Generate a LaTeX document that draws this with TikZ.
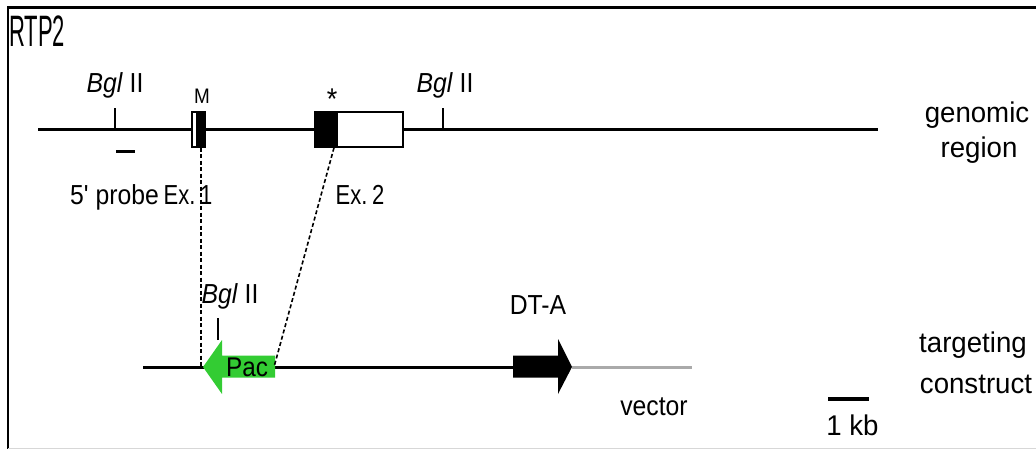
\documentclass[tikz,border=0pt]{standalone}
\usepackage{fontspec}
\setmainfont{Liberation Sans}
\newfontfamily\labfont{Liberation Sans}[FakeStretch=0.9]
\newfontfamily\exfont{Liberation Sans}[FakeStretch=0.8]
\newfontfamily\rfont{Liberation Sans}[FakeStretch=0.97]
\newfontfamily\rtpfont{Liberation Sans}[FakeStretch=0.5]
\definecolor{pacgreen}{RGB}{51,204,51}
\definecolor{vecgray}{RGB}{170,170,170}
\definecolor{framegray}{RGB}{215,215,215}
\begin{document}
\begin{tikzpicture}[x=1pt,y=-1pt,
  lab/.style={inner sep=0pt, anchor=base, font=\labfont\fontsize{27.5}{29}\selectfont},
  exlab/.style={inner sep=0pt, anchor=base, font=\exfont\fontsize{27.5}{29}\selectfont},
  rlab/.style={inner sep=0pt, anchor=base, font=\rfont\fontsize{28.5}{30}\selectfont},
  dna/.style={line width=3pt},
  sitetick/.style={line width=1.1pt},
  homol/.style={line width=1.6pt, dash pattern=on 4pt off 2.5pt},
  exonblk/.style={draw, line width=1.4pt, fill=black, inner sep=0pt, minimum height=35pt},
  exonwht/.style={draw, line width=1.4pt, fill=white, inner sep=0pt, minimum height=35pt}]
\useasboundingbox (0,0) rectangle (1036,449);
% frame
\draw[line width=2.5pt] (8,449) -- (8,7.5) -- (1036,7.5);
\draw[framegray, line width=1pt] (8,448) -- (1036,448);
\node[inner sep=0pt, anchor=base west, font=\rtpfont\fontsize{44}{46}\selectfont] (title) at (9,47) {RTP2};

% genomic region
\coordinate (gL) at (38,130);
\coordinate (gR) at (878,130);
\draw[dna] (gL) -- (gR);
\coordinate (b1) at (115,130);
\coordinate (b1t) at (115,108);
\draw[sitetick] (b1) -- (b1t);
\coordinate (b2) at (443,130);
\coordinate (b2t) at (443,108);
\draw[sitetick] (b2) -- (b2t);
\node[lab] (bgl1) at (115,93) {\textit{Bgl} II};
\node[lab] (bgl2) at (445,93) {\textit{Bgl} II};
% probe
\coordinate (pL) at (116,152);
\coordinate (pR) at (135,152);
\draw[dna] (pL) -- (pR);
% exon 1
\node[exonwht, minimum width=5pt] (m1w) at (194.5,129.5) {};
\node[exonblk, minimum width=8pt] (m1) at (201,129.5) {};
\node[lab, font=\labfont\fontsize{21}{23}\selectfont] (mlab) at (202,104) {M};
% exon 2
\node[exonwht, minimum width=66pt] (e2w) at (370,129.5) {};
\node[exonblk, minimum width=22pt] (e2) at (326,129.5) {};
\node[lab, font=\labfont\fontsize{30}{32}\selectfont] (star) at (332,110) {*};
\node[lab] (probe) at (114.5,205) {5' probe};
\node[exlab] (ex1) at (188,205) {Ex.\,1};
\node[exlab] (ex2) at (360,205) {Ex.\,2};
\node[rlab] (gen1) at (977,123) {genomic};
\node[rlab] (gen2) at (979,158) {region};

% targeting construct
\coordinate (cL) at (143,367);
\coordinate (cM) at (515,367);
\coordinate (vL) at (572,367);
\coordinate (vR) at (692,367);
\draw[dna] (cL) -- (cM);
\draw[vecgray, dna] (vL) -- (vR);
% Pac arrow
\fill[pacgreen] (203,367) -- (222,340) -- (222,355.5) -- (275,355.5) -- (275,377.5) -- (222,377.5) -- (222,394) -- cycle;
\coordinate (pacL) at (201,367);
\coordinate (pacR) at (274,367);
\node[lab, font=\labfont\fontsize{27}{29}\selectfont] (pac) at (247,376) {Pac};
% DT-A arrow
\fill[black] (513,355.5) -- (558,355.5) -- (558,339) -- (572,367) -- (558,394) -- (558,377.5) -- (513,377.5) -- cycle;
\node[lab] (dta) at (538,314) {DT-A};
% BglII on construct
\coordinate (b3) at (218,340);
\coordinate (b3t) at (218,318);
\draw[sitetick] (b3) -- (b3t);
\node[lab] (bgl3) at (230,303) {\textit{Bgl} II};
\node[lab] (vec) at (654,415) {vector};
\node[rlab] (tc1) at (973,352) {targeting};
\node[rlab] (tc2) at (976,393) {construct};

% homology lines
\draw[homol] (m1.south) -- (pacL);
\draw[homol] ([xshift=8pt]e2.south) -- (pacR);

% scale bar
\coordinate (sL) at (828,399);
\coordinate (sR) at (869,399);
\draw[line width=3.5pt] (sL) -- (sR);
\node[rlab] (kb) at (852.5,435) {1 kb};
\end{tikzpicture}
\end{document}
